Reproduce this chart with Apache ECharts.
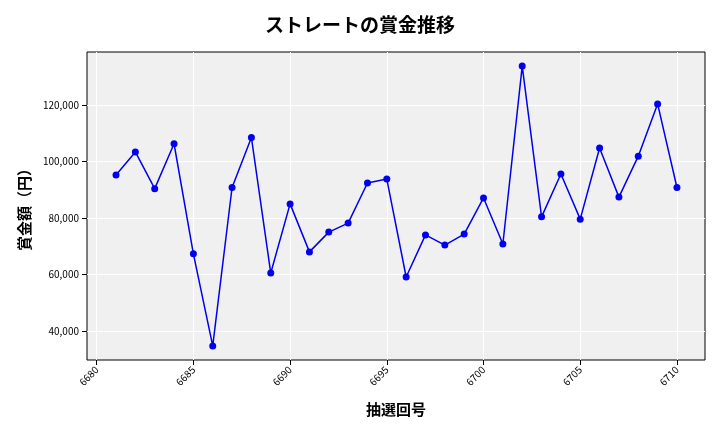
<!DOCTYPE html>
<html><head><meta charset="utf-8">
<script src="https://cdn.jsdelivr.net/npm/echarts@6/dist/echarts.min.js"></script>
<style>html,body{margin:0;padding:0;background:#fff}#c{width:720px;height:432px}</style>
</head><body><div id="c"></div>
<script>
const draws = [6681,6682,6683,6684,6685,6686,6687,6688,6689,6690,6691,6692,6693,6694,6695,6696,6697,6698,6699,6700,6701,6702,6703,6704,6705,6706,6707,6708,6709,6710];
const prizes = [95200,103400,90400,106300,67300,34700,90800,108500,60500,85000,68000,75000,78200,92400,93800,59100,74000,70400,74300,87100,70800,133800,80400,95600,79600,104800,87400,101900,120400,90800];
const xTicks = [6680,6685,6690,6695,6700,6705,6710];
const yTicks = [40000,60000,80000,100000,120000];
const font = '"Noto Sans CJK JP", sans-serif';
const chart = echarts.init(document.getElementById('c'));
chart.setOption({
  animation:false,
  title:{text:'ストレートの賞金推移',left:'center',top:10,textStyle:{fontFamily:font,fontSize:19,fontWeight:'bold',color:'#000'}},
  grid:{left:87,right:15,top:52,bottom:72,backgroundColor:'#f0f0f0',show:true,borderColor:'#000',borderWidth:1},
  xAxis:{type:'value',min:6679.5,max:6711.45,name:'抽選回号',nameLocation:'middle',nameGap:42,
    nameTextStyle:{fontFamily:font,fontSize:15,fontWeight:'bold',color:'#000'},
    axisLine:{show:false},
    axisTick:{show:true,customValues:xTicks,lineStyle:{color:'#000'}},
    axisLabel:{customValues:xTicks,rotate:45,fontSize:10,color:'#000',fontFamily:font,formatter:v=>String(v)},
    splitLine:{show:true,lineStyle:{color:'#fff',width:1}}},
  yAxis:{type:'value',min:29700,max:138800,name:'賞金額（円）',nameLocation:'middle',nameGap:55,
    nameTextStyle:{fontFamily:font,fontSize:15,fontWeight:'bold',color:'#000'},
    axisLine:{show:false},
    axisTick:{show:true,customValues:yTicks,lineStyle:{color:'#000'}},
    axisLabel:{customValues:yTicks,fontSize:10,color:'#000',fontFamily:font,formatter:v=>v.toLocaleString('en-US')},
    splitLine:{show:true,lineStyle:{color:'#fff',width:1}}},
  series:[{type:'line',data:draws.map((d,i)=>[d,prizes[i]]),color:'#0000ee',
    lineStyle:{color:'#0000ee',width:1.5},symbol:'circle',symbolSize:7,
    itemStyle:{color:'#0000ee'}}]
});
</script></body></html>
